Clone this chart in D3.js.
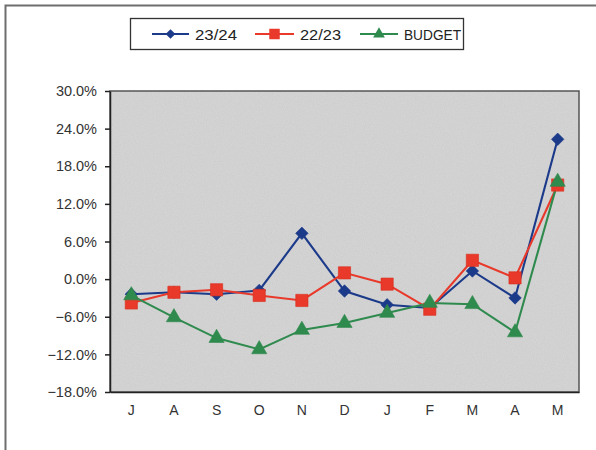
<!DOCTYPE html>
<html>
<head>
<meta charset="utf-8">
<script src="https://cdn.jsdelivr.net/npm/d3@7"></script>
<style>
  html, body { margin: 0; padding: 0; background: #fff; }
  svg { display: block; font-family: "Liberation Sans", Arial, sans-serif; }
</style>
</head>
<body>
<svg id="chart" width="596" height="450"></svg>
<script>
// Monthly variance by season, July through May
const months = ["J", "A", "S", "O", "N", "D", "J", "F", "M", "A", "M"];
const season2324 = [-2.4, -2.1, -2.4, -1.8, 7.3, -1.9, -4.1, -4.6, 1.3, -3.0, 22.3];
const season2223 = [-3.8, -2.1, -1.7, -2.6, -3.4, 1.0, -0.8, -4.8, 3.0, 0.2, 15.0];
const budget     = [-2.6, -6.1, -9.4, -11.2, -8.1, -7.0, -5.4, -3.8, -4.0, -8.5, 15.5];
const yTicks = [-18, -12, -6, 0, 6, 12, 18, 24, 30];

const series = [
  { name: "23/24",  values: season2324, color: "#1c3a8a", shape: d3.symbolDiamond2 },
  { name: "22/23",  values: season2223, color: "#e8392b", shape: d3.symbolSquare },
  { name: "BUDGET", values: budget,     color: "#2f8a4e", shape: d3.symbolTriangle }
];

const svg = d3.select("#chart");
const plot = { left: 110, right: 579, top: 91, bottom: 392 };

// Chart frame (open on the right and bottom edges of the page)
svg.append("rect")
  .attr("x", 5.5).attr("y", 5.5)
  .attr("width", 620).attr("height", 470)
  .attr("fill", "#fff")
  .attr("stroke", "#6e6e6e").attr("stroke-width", 2);

// Grainy grey plot area
const defs = svg.append("defs");
const filt = defs.append("filter").attr("id", "grain")
  .attr("x", 0).attr("y", 0).attr("width", 1).attr("height", 1);
filt.append("feTurbulence").attr("type", "fractalNoise")
  .attr("baseFrequency", 0.9).attr("numOctaves", 2).attr("seed", 4).attr("result", "n");
filt.append("feColorMatrix").attr("in", "n").attr("type", "matrix")
  .attr("values", "0 0 0 0 0.82  0 0 0 0 0.82  0 0 0 0 0.82  0.45 0 0 0 -0.05")
  .attr("result", "g");
filt.append("feComposite").attr("in", "g").attr("in2", "SourceGraphic").attr("operator", "in");

const x = d3.scaleBand().domain(d3.range(months.length))
  .range([plot.left, plot.right]).padding(0);
const y = d3.scaleLinear().domain([-18, 30]).range([plot.bottom, plot.top]);

svg.append("rect")
  .attr("x", plot.left).attr("y", plot.top)
  .attr("width", plot.right - plot.left).attr("height", plot.bottom - plot.top)
  .attr("fill", "#cdcdcd");
svg.append("rect")
  .attr("x", plot.left).attr("y", plot.top)
  .attr("width", plot.right - plot.left).attr("height", plot.bottom - plot.top)
  .attr("fill", "#cdcdcd").attr("filter", "url(#grain)").attr("opacity", 0.9);
svg.append("rect")
  .attr("x", plot.left).attr("y", plot.top)
  .attr("width", plot.right - plot.left).attr("height", plot.bottom - plot.top)
  .attr("fill", "none").attr("stroke", "#555").attr("stroke-width", 1.5);

// Y axis
const yAxis = d3.axisLeft(y).tickValues(yTicks)
  .tickFormat(d => d3.format(".1f")(d) + "%")
  .tickSize(5).tickSizeOuter(0).tickPadding(8);
const gy = svg.append("g").attr("transform", `translate(${plot.left},0)`).call(yAxis);
gy.select(".domain").attr("stroke", "#222").attr("stroke-width", 1.5);
gy.selectAll(".tick line").attr("stroke", "#222").attr("stroke-width", 1.5);
gy.selectAll("text").attr("font-size", 14.5).attr("fill", "#333")
  .attr("font-family", "Liberation Sans, Arial, sans-serif");

// X axis
const xAxis = d3.axisBottom(x).tickFormat(i => months[i]).tickSize(0).tickPadding(13);
const gx = svg.append("g").attr("transform", `translate(0,${plot.bottom})`).call(xAxis);
gx.select(".domain").attr("stroke", "#222").attr("stroke-width", 1.5);
gx.selectAll("text").attr("font-size", 14).attr("fill", "#333")
  .attr("font-family", "Liberation Sans, Arial, sans-serif");

const cx = i => x(i) + x.bandwidth() / 2;
const line = d3.line().x((d, i) => cx(i)).y(d => y(d));

// Lines first, then markers on top
series.forEach(s => {
  svg.append("path").datum(s.values)
    .attr("d", line).attr("fill", "none")
    .attr("stroke", s.color).attr("stroke-width", 2.1);
});
const markerSize = { "23/24": 100, "22/23": 150, "BUDGET": 100 };
series.forEach(s => {
  svg.append("g").selectAll("path").data(s.values).join("path")
    .attr("transform", (d, i) => `translate(${cx(i)},${y(d)})`)
    .attr("d", d3.symbol().type(s.shape).size(markerSize[s.name]))
    .attr("fill", s.color)
    .attr("stroke", s.name === "22/23" ? "#d8301f" : s.color).attr("stroke-width", 0.6);
});

// Legend
const legend = svg.append("g");
legend.append("rect")
  .attr("x", 130.5).attr("y", 18.5).attr("width", 333).attr("height", 31)
  .attr("fill", "#fff").attr("stroke", "#333").attr("stroke-width", 1.3);
const legendPos = [
  { x1: 152, x2: 189, tx: 195, w: 42 },
  { x1: 255, x2: 294, tx: 300, w: 41 },
  { x1: 360, x2: 398, tx: 404, w: 57 }
];
series.forEach((s, k) => {
  const p = legendPos[k], ly = 34;
  legend.append("line").attr("x1", p.x1).attr("x2", p.x2).attr("y1", ly).attr("y2", ly)
    .attr("stroke", s.color).attr("stroke-width", 2);
  legend.append("path")
    .attr("transform", `translate(${(p.x1 + p.x2) / 2},${ly})`)
    .attr("d", d3.symbol().type(s.shape).size(s.name === "22/23" ? 110 : 60))
    .attr("fill", s.color);
  legend.append("text").attr("x", p.tx).attr("y", ly + 5.5)
    .attr("font-size", 15.5).attr("fill", "#222")
    .attr("textLength", p.w).attr("lengthAdjust", "spacingAndGlyphs")
    .text(s.name);
});
</script>
</body>
</html>
